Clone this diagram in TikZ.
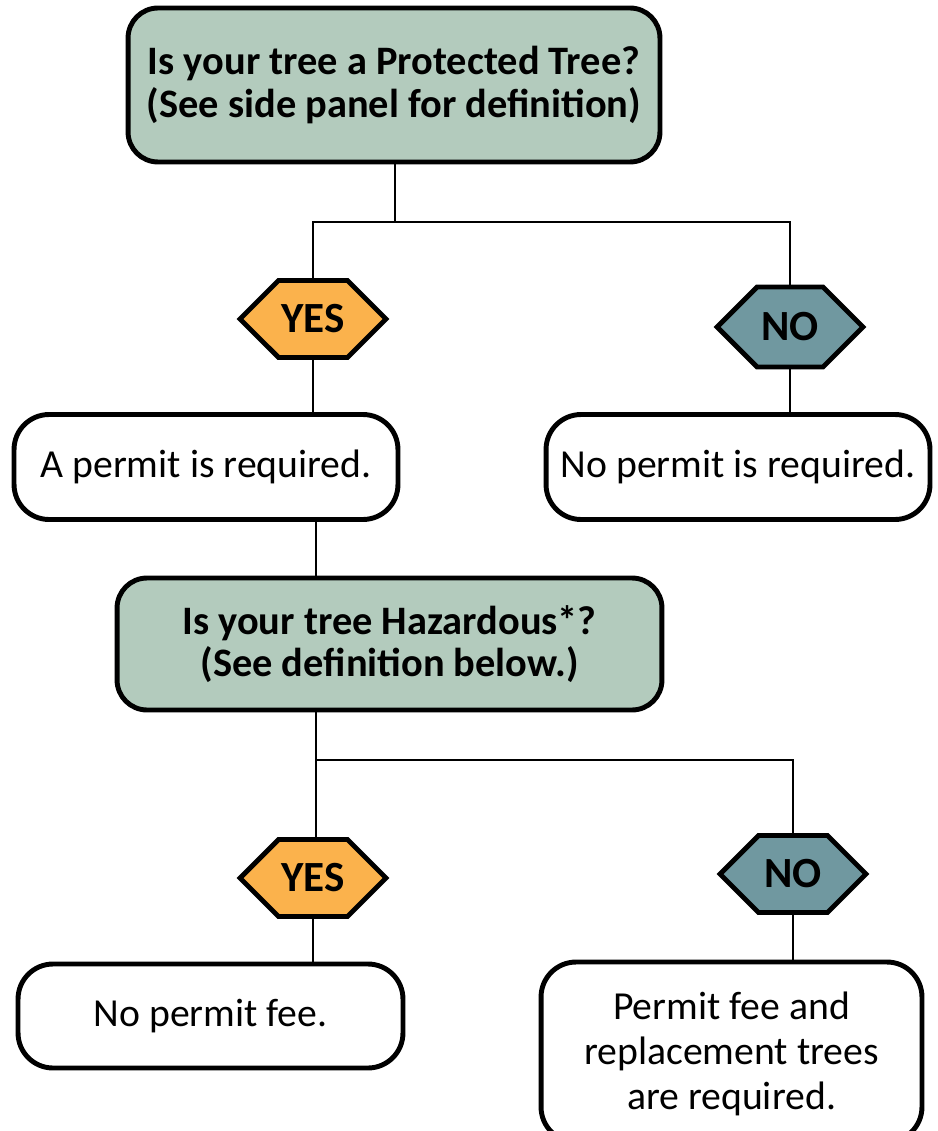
\documentclass[tikz,border=0pt]{standalone}
\usepackage{fontspec}
\setmainfont{Carlito}
\usetikzlibrary{shapes.symbols}
\definecolor{qgreen}{RGB}{179,203,189}
\definecolor{yorange}{RGB}{251,178,76}
\definecolor{nteal}{RGB}{112,152,160}
\tikzset{
  question/.style={draw=black, line width=2.8pt, fill=qgreen, rounded corners=0.6cm,
    align=center, font=\fontsize{23}{24}\selectfont\bfseries, inner sep=0pt},
  answer/.style={draw=black, line width=2.8pt, fill=white, rounded corners=0.7cm,
    align=center, font=\fontsize{22.6}{25.5}\selectfont, inner sep=0pt},
  hexa/.style={draw=black, line width=2.8pt, signal, signal to=west and east,
    signal pointer angle=90, minimum width=2.92cm, minimum height=1.54cm,
    inner sep=0pt, font=\fontsize{24.5}{26}\selectfont\bfseries},
  yeshex/.style={hexa, fill=yorange},
  nohex/.style={hexa, fill=nteal},
  conn/.style={line width=1.4pt, draw=black}
}
\begin{document}
\begin{tikzpicture}[x=0.02cm,y=-0.02cm]
\useasboundingbox (0,0) rectangle (937,1131);
\node[question, minimum width=10.64cm, minimum height=3.08cm] (top) at (394,85)
  {Is your tree a Protected Tree?\\(See side panel for definition)};
\node[yeshex] (yes1) at (313,319) {YES};
\node[nohex, minimum height=1.6cm] (no1) at (790,327) {NO};
\node[answer, minimum width=7.68cm, minimum height=2.1cm] (a) at (206,467) {A permit is required.};
\node[answer, minimum width=7.68cm, minimum height=2.1cm] (b) at (738,467) {No permit is required.};
\node[question, minimum width=10.9cm, minimum height=2.64cm] (haz) at (389.5,644)
  {Is your tree Hazardous*?\\(See definition below.)};
\node[yeshex] (yes2) at (313,878) {YES};
\node[nohex] (no2) at (793,874) {NO};
\node[answer, minimum width=7.7cm, minimum height=2.08cm] (c) at (210.5,1016) {No permit fee.};
\node[answer, minimum width=7.62cm, minimum height=3.6cm, text depth=0pt] (d) at (731.5,1052) {};
\node[font=\fontsize{22.6}{25.5}\selectfont, align=center, inner sep=0pt] (dtext) at (731.5,1054)
  {Permit fee and\\replacement trees\\are required.};
\coordinate (j1) at (395,222);
\coordinate (j2) at (316,760);
\draw[conn] (top.south -| j1) -- (j1);
\draw[conn] (yes1.north) |- (j1) -| (no1.north);
\draw[conn] (yes1.south) -- (yes1.south |- a.north);
\draw[conn] (no1.south) -- (no1.south |- b.north);
\draw[conn] (a.south -| j2) -- (haz.north -| j2);
\draw[conn] (haz.south -| j2) -- (j2) -- (yes2.north -| j2);
\draw[conn] (j2) -| (no2.north);
\draw[conn] (yes2.south) -- (yes2.south |- c.north);
\draw[conn] (no2.south) -- (no2.south |- d.north);
\end{tikzpicture}
\end{document}
